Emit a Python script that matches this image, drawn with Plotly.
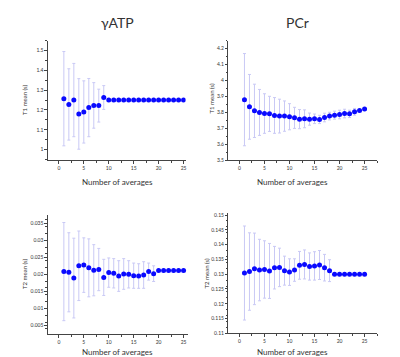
import plotly.graph_objects as go

n_avg = list(range(1, 26))

atp_t1 = [1.257, 1.228, 1.250, 1.180, 1.190, 1.212, 1.223, 1.222, 1.263] + [1.250] * 16
atp_t1_err = [0.238, 0.180, 0.185, 0.178, 0.157, 0.147, 0.115, 0.083, 0.060] + [0.0] * 16

pcr_t1 = [3.880, 3.835, 3.810, 3.800, 3.793, 3.791, 3.781, 3.777, 3.777, 3.773,
          3.766, 3.758, 3.760, 3.758, 3.760, 3.756, 3.768, 3.777, 3.783, 3.787,
          3.793, 3.791, 3.804, 3.812, 3.822]
pcr_t1_err = [0.289, 0.203, 0.167, 0.144, 0.124, 0.110, 0.112, 0.106, 0.095, 0.082,
              0.066, 0.060, 0.056, 0.038, 0.030, 0.026, 0.027, 0.024, 0.025, 0.027,
              0.027, 0.023, 0.021, 0.006, 0.004]

atp_t2 = [0.0208, 0.0206, 0.0189, 0.0225, 0.0227, 0.0219, 0.0212, 0.0214, 0.0191, 0.0205,
          0.0203, 0.0195, 0.0201, 0.0200, 0.0196, 0.0195, 0.0198, 0.0208, 0.0202] + [0.0211] * 6
atp_t2_err = [0.0144, 0.0116, 0.0117, 0.0102, 0.0080, 0.0085, 0.0075, 0.0062, 0.0053, 0.0043,
              0.0043, 0.0045, 0.0045, 0.0040, 0.0037, 0.0036, 0.0039, 0.0025, 0.0023] + [0.0] * 6

pcr_t2 = [0.1304, 0.1309, 0.1318, 0.1314, 0.1316, 0.1311, 0.1322, 0.1323, 0.1312, 0.1307,
          0.1314, 0.1330, 0.1333, 0.1326, 0.1328, 0.1331, 0.1322, 0.1312] + [0.1300] * 7
pcr_t2_err = [0.0159, 0.0131, 0.0121, 0.0104, 0.0097, 0.0093, 0.0072, 0.0065, 0.0049, 0.0045,
              0.0038, 0.0047, 0.0049, 0.0046, 0.0048, 0.0049, 0.0045, 0.0037] + [0.0] * 7

x_ticks = [0, 5, 10, 15, 20, 25]
atp_t1_ticks = [1.0, 1.1, 1.2, 1.3, 1.4, 1.5]
atp_t1_labels = ["1", "1.1", "1.2", "1.3", "1.4", "1.5"]
pcr_t1_ticks = [3.5, 3.6, 3.7, 3.8, 3.9, 4.0, 4.1, 4.2]
pcr_t1_labels = ["3.5", "3.6", "3.7", "3.8", "3.9", "4", "4.1", "4.2"]
atp_t2_ticks = [0.005, 0.01, 0.015, 0.02, 0.025, 0.03, 0.035]
atp_t2_labels = ["0.005", "0.01", "0.015", "0.02", "0.025", "0.03", "0.035"]
pcr_t2_ticks = [0.11, 0.115, 0.12, 0.125, 0.13, 0.135, 0.14, 0.145, 0.15]
pcr_t2_labels = ["0.11", "0.115", "0.12", "0.125", "0.13", "0.135", "0.14", "0.145", "0.15"]

W, H = 400, 357
FONT = "Lato, Open Sans, sans-serif"
AX = "#444444"
ERR = "#c9c9f5"
PT = "#0a0aff"

fig = go.Figure()

panels = [
    dict(y=atp_t1, e=atp_t1_err, xa="x", ya="y"),
    dict(y=pcr_t1, e=pcr_t1_err, xa="x2", ya="y2"),
    dict(y=atp_t2, e=atp_t2_err, xa="x3", ya="y3"),
    dict(y=pcr_t2, e=pcr_t2_err, xa="x4", ya="y4"),
]
for p in panels:
    fig.add_trace(go.Scatter(
        x=n_avg, y=p["y"], mode="markers", xaxis=p["xa"], yaxis=p["ya"],
        marker=dict(color=PT, size=5, line=dict(width=0)),
        error_y=dict(type="data", array=p["e"], visible=True, color=ERR,
                     thickness=1, width=1.5),
        showlegend=False, hoverinfo="skip"))


def px_x(a, b):
    return [a / W, b / W]


def px_y(top, bot):
    return [1 - bot / H, 1 - top / H]


common_x = dict(showline=True, linecolor=AX, linewidth=1, ticks="outside", ticklen=2.5,
                tickcolor=AX, tickwidth=1, showgrid=False, zeroline=False,
                tickvals=x_ticks, tickfont=dict(size=5, color="#333333", family=FONT),
                minor=dict(ticks="outside", ticklen=1.5, tickcolor=AX, dtick=2.5))
common_y = dict(showline=True, linecolor=AX, linewidth=1, ticks="outside", ticklen=2.5,
                tickcolor=AX, tickwidth=1, showgrid=False, zeroline=False,
                tickfont=dict(size=5, color="#333333", family=FONT),
                minor=dict(ticks="outside", ticklen=1.5, tickcolor=AX))

fig.update_layout(
    width=W, height=H, margin=dict(l=0, r=0, t=0, b=0),
    paper_bgcolor="white", plot_bgcolor="white",
    font=dict(family=FONT, color="#333333"),
    xaxis=dict(common_x, domain=px_x(40, 178), range=[-2.2, 25.4], anchor="y"),
    yaxis=dict(common_y, domain=px_y(32, 153), range=[0.946, 1.55], anchor="x",
               tickvals=atp_t1_ticks, ticktext=atp_t1_labels),
    xaxis2=dict(common_x, domain=px_x(221, 370), range=[-2.2, 27.5], anchor="y2"),
    yaxis2=dict(common_y, domain=px_y(32, 153), range=[3.5, 4.25], anchor="x2",
                tickvals=pcr_t1_ticks, ticktext=pcr_t1_labels),
    xaxis3=dict(common_x, domain=px_x(40, 180), range=[-2.2, 25.8], anchor="y3"),
    yaxis3=dict(common_y, domain=px_y(208, 329), range=[0.0024, 0.0375], anchor="x3",
                tickvals=atp_t2_ticks, ticktext=atp_t2_labels),
    xaxis4=dict(common_x, domain=px_x(221, 370), range=[-2.2, 27.5], anchor="y4"),
    yaxis4=dict(common_y, domain=px_y(206, 328), range=[0.11, 0.1508], anchor="x4",
                tickvals=pcr_t2_ticks, ticktext=pcr_t2_labels),
)


def ann(text, x, y, size, angle=0):
    fig.add_annotation(text=text, x=x / W, y=1 - y / H, xref="paper", yref="paper",
                       showarrow=False, textangle=angle, xanchor="center", yanchor="middle",
                       font=dict(size=size, family=FONT, color="#333333"))


ann("γATP", 110, 14, 14)
ann("PCr", 290, 14, 14)
ann("Number of averages", 110, 175, 8)
ann("Number of averages", 285, 175, 8)
ann("Number of averages", 110, 347, 8)
ann("Number of averages", 285, 347, 8)
ann("T1 mean (s)", 17, 92, 6, -90)
ann("T1 mean (s)", 205, 90, 6, -90)
ann("T2 mean (s)", 17, 268, 6, -90)
ann("T2 mean (s)", 199, 268, 6, -90)

fig.write_html("out.html")
